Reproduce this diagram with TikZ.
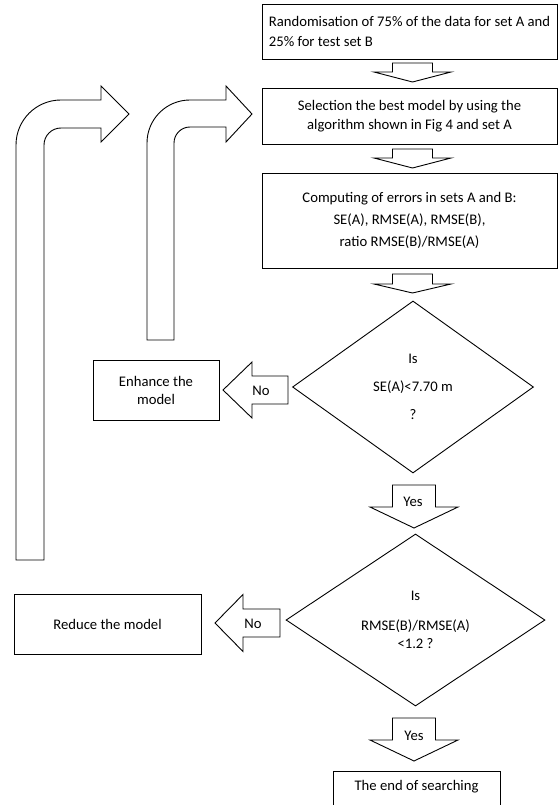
\documentclass[tikz,border=0pt]{standalone}
\usepackage{fontspec}
\setmainfont{Carlito}
\usetikzlibrary{shapes.geometric}
\newcommand\dnblock[6]{\draw[blk] ({#1-#2},#4) -- ({#1+#2},#4) -- ({#1+#2},#5) -- ({#1+#3},#5) -- (#1,#6) -- ({#1-#3},#5) -- ({#1-#2},#5) -- cycle;}
\newcommand\lfblock[6]{\draw[blk] (#3,{#4-#5}) -- (#2,{#4-#5}) -- (#2,{#4-#6}) -- (#1,#4) -- (#2,{#4+#6}) -- (#2,{#4+#5}) -- (#3,{#4+#5}) -- cycle;}
\begin{document}
\begin{tikzpicture}[x=1pt,y=-1pt,line width=0.9pt,
  txt/.style={font=\fontsize{14.67}{18}\selectfont},
  box/.style={draw,rectangle,inner sep=0pt,align=center,txt},
  dia/.style={draw,diamond,inner sep=0pt,align=center,txt},
  blk/.style={draw,fill=white,line join=miter},
  lbl/.style={txt,inner sep=0pt}]
\useasboundingbox (0,0) rectangle (559,805);
\fill[white] (0,0) rectangle (559,805);

% boxes
\node[box,minimum width=295pt,minimum height=55pt,align=left] (rand) at (409.5,31.5)
  {Randomisation of 75\% of the data for set A and\\[2pt]25\% for test set B};
\node[box,minimum width=295pt,minimum height=56pt] (sel) at (409.5,116)
  {Selection the best model by using the\\[1pt]algorithm shown in Fig 4 and set A};
\node[box,minimum width=295pt,minimum height=95pt] (comp) at (409.5,220.5)
  {Computing of errors in sets A and B:\\[4pt]SE(A), RMSE(A), RMSE(B),\\[4pt]ratio RMSE(B)/RMSE(A)};
\node[dia,minimum width=241pt,minimum height=172pt] (q1) at (413,387)
  {Is\\[10pt]SE(A)<7.70 m\\[10pt]?};
\node[box,minimum width=126pt,minimum height=60pt] (enh) at (156,390) {Enhance the\\model};
\node[dia,minimum width=259pt,minimum height=172pt] (q2) at (415.5,620)
  {Is\\[12pt]RMSE(B)/RMSE(A)\\<1.2 ?};
\node[box,minimum width=187pt,minimum height=60pt] (red) at (107.5,624) {Reduce the model};
\node[box,minimum width=167pt,anchor=north,inner sep=0pt,text height=19pt,text depth=31pt] (end) at (416.5,771) {The end of searching};

% straight block arrows
\dnblock{412.5}{20}{38.5}{63}{72}{82}
\dnblock{412.5}{20}{38.5}{149}{158}{168}
\dnblock{412.5}{20}{38.5}{274}{284}{293}
\dnblock{414}{21.5}{44}{485}{507}{528}
\dnblock{414}{21.5}{44}{718}{740}{761}
\lfblock{223}{252}{288}{390}{14}{28}
\lfblock{215}{243}{280}{623}{14}{28.5}
\node[lbl] (no1) at (261,391) {No};
\node[lbl] (no2) at (253,624) {No};
\node[lbl] (yes1) at (413,502) {Yes};
\node[lbl] (yes2) at (414,736) {Yes};

% bent block arrows
\draw[blk] (16,560) -- (16,145) .. controls (16,120.1) and (36.1,100) .. (61,100) -- (101,100) -- (101,86)
  -- (129,114) -- (101,142) -- (101,128) -- (61,128) .. controls (51.6,128) and (44,135.6) .. (44,145) -- (44,560) -- cycle;
\draw[blk] (147,340) -- (147,143) .. controls (147,119.25) and (166.25,100) .. (190,100) -- (226,100) -- (226,86)
  -- (252,114) -- (226,142) -- (226,127) -- (190,127) .. controls (181.16,127) and (174,134.16) .. (174,143) -- (174,340) -- cycle;
\end{tikzpicture}
\end{document}
